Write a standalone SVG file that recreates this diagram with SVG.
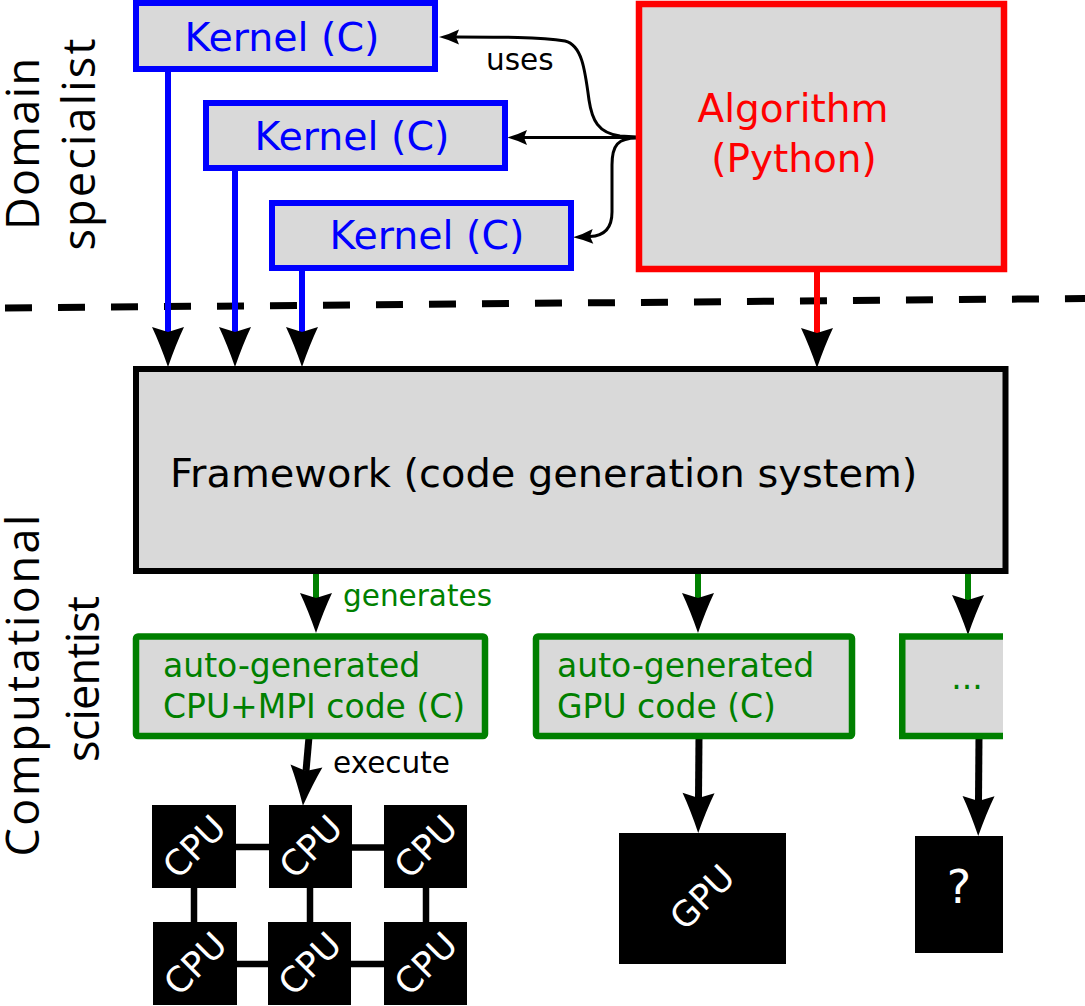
<svg xmlns="http://www.w3.org/2000/svg" width="1085" height="1006" viewBox="0 0 1085 1006">
<style>
  text { font-family: "DejaVu Sans", "Liberation Sans", sans-serif; }
  .side { font-family: "Open Sans", "DejaVu Sans", sans-serif; font-size: 45px; fill: #000; }
  .kbox { fill: #d9d9d9; stroke: #0000ff; stroke-width: 6; }
  .ktxt { font-size: 39.5px; fill: #0000ff; text-anchor: middle; }
  .gbox { fill: #d9d9d9; stroke: #008000; stroke-width: 6.5; }
  .gtxt { font-size: 33px; fill: #008000; }
  .lbl { font-size: 29.5px; }
  .hw { fill: #000; }
  .cputxt { font-size: 35px; fill: #fff; text-anchor: middle; }
</style>
<defs>
  <marker id="big" markerUnits="userSpaceOnUse" markerWidth="50" markerHeight="40" refX="0" refY="0" viewBox="-10 -20 50 40" orient="auto" overflow="visible">
    <path d="M0,0 L-5,-16 Q12,-8 35,0 Q12,8 -5,16 Z" fill="#000"/>
  </marker>
  <marker id="small" markerUnits="userSpaceOnUse" markerWidth="30" markerHeight="20" refX="0" refY="0" viewBox="-5 -10 30 20" orient="auto" overflow="visible">
    <path d="M0,0 L-3,-7.5 Q6,-3 17,0 Q6,3 -3,7.5 Z" fill="#000"/>
  </marker>
</defs>
<rect width="1085" height="1006" fill="#fff"/>

<g id="labels">
  <text class="side" transform="translate(39,144) rotate(-90)" text-anchor="middle" textLength="172" lengthAdjust="spacing">Domain</text>
  <text class="side" transform="translate(95,144.5) rotate(-90)" text-anchor="middle" textLength="212" lengthAdjust="spacing">specialist</text>
  <text class="side" transform="translate(39,685.5) rotate(-90)" text-anchor="middle" textLength="342" lengthAdjust="spacing">Computational</text>
  <text class="side" transform="translate(99,679) rotate(-90)" text-anchor="middle" textLength="166" lengthAdjust="spacing">scientist</text>
</g>

<g id="divider">
  <line x1="5" y1="308" x2="1085" y2="298.5" stroke="#000" stroke-width="7" stroke-dasharray="27 26"/>
</g>

<g id="connectors" fill="none">
  <line x1="168" y1="70" x2="168" y2="332" stroke="#0000ff" stroke-width="6" marker-end="url(#big)"/>
  <line x1="235" y1="168" x2="235" y2="332" stroke="#0000ff" stroke-width="6" marker-end="url(#big)"/>
  <line x1="302" y1="268" x2="302" y2="332" stroke="#0000ff" stroke-width="6" marker-end="url(#big)"/>
  <line x1="817" y1="271" x2="817" y2="333" stroke="#ff0000" stroke-width="6" marker-end="url(#big)"/>
  <path d="M637,137 L620,136 C598,133 592,120 589,100 C585,70 582,45 565,41 C540,37 500,37 456,37" stroke="#000" stroke-width="3" marker-end="url(#small)"/>
  <line x1="637" y1="137.5" x2="524" y2="137.5" stroke="#000" stroke-width="3" marker-end="url(#small)"/>
  <path d="M637,138 C618,138 612,145 612,165 L612,212 C612,230 602,236 590,236.5" stroke="#000" stroke-width="3" marker-end="url(#small)"/>
  <line x1="316" y1="572" x2="316" y2="598" stroke="#008000" stroke-width="6" marker-end="url(#big)"/>
  <line x1="698" y1="572" x2="698" y2="598" stroke="#008000" stroke-width="6" marker-end="url(#big)"/>
  <line x1="968" y1="572" x2="968" y2="600" stroke="#008000" stroke-width="6" marker-end="url(#big)"/>
  <line x1="309" y1="737" x2="306" y2="771" stroke="#000" stroke-width="7" marker-end="url(#big)"/>
  <line x1="699" y1="737" x2="698.5" y2="798" stroke="#000" stroke-width="7" marker-end="url(#big)"/>
  <line x1="979" y1="737" x2="978.5" y2="801" stroke="#000" stroke-width="7" marker-end="url(#big)"/>
  <text class="lbl" x="486" y="70" fill="#000">uses</text>
  <text class="lbl" x="343" y="606" fill="#008000">generates</text>
  <text class="lbl" x="333" y="773" fill="#000">execute</text>
</g>

<g id="kernel1">
  <rect class="kbox" x="136" y="3" width="299" height="66"/>
  <text class="ktxt" x="282" y="51">Kernel (C)</text>
</g>
<g id="kernel2">
  <rect class="kbox" x="206" y="103" width="299" height="65"/>
  <text class="ktxt" x="352" y="150">Kernel (C)</text>
</g>
<g id="kernel3">
  <rect class="kbox" x="272" y="203" width="299" height="65"/>
  <text class="ktxt" x="427" y="249">Kernel (C)</text>
</g>
<g id="algorithm">
  <rect x="639" y="4" width="365" height="265" fill="#d9d9d9" stroke="#ff0000" stroke-width="6.5"/>
  <text x="793" y="122" font-size="39" fill="#ff0000" text-anchor="middle">Algorithm</text>
  <text x="794" y="172" font-size="39" fill="#ff0000" text-anchor="middle">(Python)</text>
</g>
<g id="framework">
  <rect x="136" y="369" width="869.5" height="202" fill="#d9d9d9" stroke="#000" stroke-width="6"/>
  <text x="170" y="487" font-size="39.9" fill="#000">Framework (code generation system)</text>
</g>
<g id="cpucode">
  <rect class="gbox" x="136" y="636.5" width="349" height="99.5" rx="2"/>
  <text class="gtxt" x="163" y="677">auto-generated</text>
  <text class="gtxt" x="163" y="718">CPU+MPI code (C)</text>
</g>
<g id="gpucode">
  <rect class="gbox" x="536" y="636.5" width="316" height="99.5" rx="2"/>
  <text class="gtxt" x="557" y="677">auto-generated</text>
  <text class="gtxt" x="557" y="718">GPU code (C)</text>
</g>
<g id="othercode">
  <rect x="902" y="636.5" width="101" height="99.5" fill="#d9d9d9"/>
  <path d="M1003,636.5 H902.25 V736 H1003" fill="none" stroke="#008000" stroke-width="6.5"/>
  <text class="gtxt" x="967" y="689" text-anchor="middle">...</text>
</g>

<g id="cpugrid">
  <g stroke="#000" stroke-width="6.5">
    <line x1="236" y1="847" x2="269" y2="847"/>
    <line x1="352" y1="847.5" x2="384" y2="847.5"/>
    <line x1="237" y1="964" x2="268" y2="964"/>
    <line x1="351" y1="964" x2="384" y2="964"/>
    <line x1="194" y1="888" x2="194" y2="922"/>
    <line x1="310" y1="888" x2="310" y2="922"/>
    <line x1="426" y1="888" x2="426" y2="922"/>
  </g>
  <g id="cpu1"><rect class="hw" x="152" y="805" width="84" height="83"/><text class="cputxt" transform="translate(194,846.5) rotate(-45)" y="12.5">CPU</text></g>
  <g id="cpu2"><rect class="hw" x="269" y="805" width="83" height="83"/><text class="cputxt" transform="translate(310.5,846.5) rotate(-45)" y="12.5">CPU</text></g>
  <g id="cpu3"><rect class="hw" x="384" y="805" width="83" height="83"/><text class="cputxt" transform="translate(425.5,846.5) rotate(-45)" y="12.5">CPU</text></g>
  <g id="cpu4"><rect class="hw" x="153" y="922" width="84" height="83"/><text class="cputxt" transform="translate(195,963.5) rotate(-45)" y="12.5">CPU</text></g>
  <g id="cpu5"><rect class="hw" x="268" y="922" width="83" height="83"/><text class="cputxt" transform="translate(309.5,963.5) rotate(-45)" y="12.5">CPU</text></g>
  <g id="cpu6"><rect class="hw" x="384" y="922" width="83" height="83"/><text class="cputxt" transform="translate(425.5,963.5) rotate(-45)" y="12.5">CPU</text></g>
</g>
<g id="gpu">
  <rect class="hw" x="619" y="833" width="167" height="131"/>
  <text class="cputxt" transform="translate(702,897) rotate(-45)" y="12.5">GPU</text>
</g>
<g id="unknown">
  <rect class="hw" x="915" y="836" width="88" height="117"/>
  <text x="959" y="903" font-size="46" fill="#fff" text-anchor="middle">?</text>
</g>
</svg>
